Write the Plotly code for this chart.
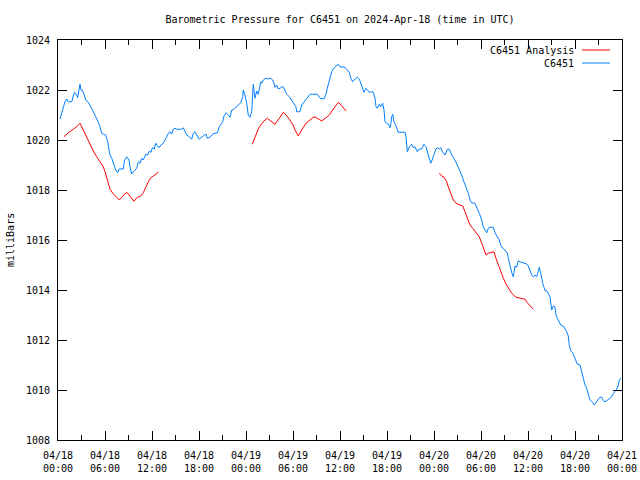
import pandas as pd
import plotly.graph_objects as go

BASE = "2024-04-18 00:00"

# hours since 2024-04-18 00:00 UTC, and pressure (mb)
obs_hours = [0.26, 0.47, 0.68, 0.89, 1.11, 1.31, 1.75, 1.95, 2.08, 2.39, 2.51, 2.68, 2.81, 2.94, 3.10, 3.36, 3.54,
             3.87, 4.21, 4.51, 4.81, 5.14, 5.36, 5.58, 5.78, 6.09, 6.34, 6.51, 6.64, 6.86, 7.06, 7.37, 7.62, 7.79,
             8.34, 8.46, 8.77, 9.06, 9.19, 9.41, 9.61, 9.83, 10.05, 10.25, 10.47, 10.69, 10.89, 11.20, 11.45, 11.66,
             11.87, 12.04, 12.29, 12.47, 12.73, 12.89, 13.15, 13.44, 13.88, 14.08, 14.30, 14.51, 14.72, 14.94, 15.15,
             15.79, 16.00, 16.21, 16.43, 16.76, 17.07, 17.27, 17.49, 17.71, 18.04, 18.34, 18.64, 18.89, 19.06, 19.40,
             19.75, 20.04, 20.34, 20.59, 20.90, 21.02, 21.19, 21.45, 21.74, 21.96, 22.17, 22.47, 22.72, 23.02, 23.32,
             23.58, 23.65, 23.87, 24.09, 24.29, 24.51, 24.73, 24.85, 24.93, 25.15, 25.37, 25.57, 25.79, 25.88, 26.00,
             26.21, 26.55, 26.85, 27.06, 27.41, 27.57, 27.70, 27.92, 28.12, 28.34, 28.56, 28.76, 28.98, 29.20, 29.53,
             29.83, 30.13, 30.38, 30.47, 30.89, 31.11, 31.40, 31.66, 31.95, 32.17, 33.10, 33.45, 33.96, 34.21, 34.38,
             34.63, 34.81, 34.94, 35.23, 35.58, 35.78, 36.00, 36.64, 36.93, 37.19, 37.37, 37.62, 37.91, 38.21, 38.46,
             38.64, 38.90, 39.06, 39.32, 39.49, 39.74, 40.05, 40.25, 40.47, 40.60, 40.76, 41.02, 41.20, 41.45, 41.62,
             41.74, 41.96, 42.17, 42.38, 42.47, 42.60, 42.73, 42.89, 43.15, 43.44, 44.30, 44.43, 44.59, 44.85, 45.15,
             45.36, 45.57, 45.87, 46.12, 46.43, 46.72, 46.98, 47.27, 47.58, 47.71, 48.00, 48.25, 48.42, 48.68, 48.85,
             49.11, 49.40, 49.70, 49.95, 50.13, 50.39, 50.68, 50.97, 51.32, 51.53, 51.74, 52.09, 52.38, 52.60, 52.81,
             53.23, 53.53, 53.78, 54.09, 54.29, 54.51, 54.73, 54.93, 55.15, 55.57, 55.79, 56.08, 56.34, 56.51, 56.77,
             57.06, 57.36, 57.49, 57.70, 57.92, 58.12, 58.34, 58.55, 58.76, 58.98, 59.40, 59.83, 60.04, 60.26, 60.47,
             60.68, 60.89, 61.11, 61.32, 61.44, 61.62, 61.75, 61.88, 62.04, 62.17, 62.39, 62.59, 62.81, 62.94, 63.03,
             63.15, 63.32, 63.45, 63.57, 63.74, 64.00, 64.18, 64.51, 64.72, 64.94, 65.14, 65.27, 65.45, 65.71, 65.87,
             66.13, 66.29, 66.64, 66.85, 67.06, 67.28, 67.49, 67.70, 67.91, 68.13, 68.34, 68.43, 68.68, 68.98, 69.19,
             69.41, 69.62, 69.83, 70.04, 70.25, 70.47, 70.68, 70.89, 71.11, 71.32, 71.53, 71.66, 71.87]
obs_mb = [1020.84, 1021.07, 1021.27, 1021.53, 1021.64, 1021.53, 1021.53, 1021.73, 1021.91, 1021.80, 1021.69, 1022.00,
          1022.23, 1022.00, 1022.00, 1021.80, 1021.60, 1021.51, 1021.33, 1021.13, 1020.93, 1020.73, 1020.53, 1020.27,
          1020.23, 1020.20, 1019.93, 1019.60, 1019.40, 1019.27, 1019.07, 1018.80, 1018.69, 1018.84, 1018.84, 1019.16,
          1019.33, 1019.20, 1018.93, 1018.64, 1018.73, 1018.80, 1018.87, 1019.13, 1019.07, 1019.27, 1019.20, 1019.43,
          1019.40, 1019.56, 1019.51, 1019.69, 1019.64, 1019.87, 1019.77, 1019.69, 1019.80, 1019.87, 1020.13, 1020.27,
          1020.33, 1020.24, 1020.43, 1020.47, 1020.43, 1020.43, 1020.49, 1020.33, 1020.20, 1020.13, 1020.03, 1020.27,
          1020.33, 1020.20, 1020.03, 1020.11, 1020.20, 1020.24, 1020.07, 1020.11, 1020.24, 1020.27, 1020.29, 1020.53,
          1020.69, 1020.73, 1020.96, 1021.09, 1021.00, 1020.91, 1021.20, 1021.23, 1021.31, 1021.40, 1021.49, 1021.73,
          1022.00, 1021.80, 1021.47, 1021.00, 1020.91, 1021.13, 1022.00, 1022.23, 1021.67, 1021.96, 1021.83, 1022.13,
          1022.33, 1022.27, 1022.40, 1022.47, 1022.44, 1022.49, 1022.40, 1022.27, 1022.11, 1022.20, 1022.04, 1022.07,
          1022.13, 1022.13, 1021.96, 1021.83, 1021.73, 1021.60, 1021.47, 1021.33, 1021.13, 1021.13, 1021.40, 1021.53,
          1021.64, 1021.73, 1021.83, 1021.83, 1021.67, 1021.64, 1021.83, 1022.07, 1022.33, 1022.53, 1022.73, 1022.89,
          1022.97, 1023.03, 1022.93, 1022.91, 1022.80, 1022.71, 1022.47, 1022.33, 1022.44, 1022.51, 1022.44, 1022.27,
          1022.04, 1021.91, 1022.07, 1022.00, 1021.91, 1021.93, 1021.91, 1021.67, 1021.33, 1021.27, 1021.43, 1021.33,
          1021.47, 1021.20, 1020.73, 1020.67, 1020.63, 1020.49, 1020.60, 1020.93, 1021.03, 1020.73, 1020.57, 1020.31,
          1020.31, 1020.13, 1019.53, 1019.73, 1019.83, 1019.69, 1019.73, 1019.53, 1019.64, 1019.64, 1019.83, 1019.73,
          1019.43, 1019.07, 1019.16, 1019.43, 1019.64, 1019.69, 1019.64, 1019.69, 1019.51, 1019.40, 1019.63, 1019.63,
          1019.47, 1019.33, 1019.20, 1019.00, 1018.80, 1018.60, 1018.40, 1018.13, 1017.87, 1017.60, 1017.49, 1017.47,
          1017.27, 1017.07, 1016.80, 1016.53, 1016.40, 1016.29, 1016.47, 1016.51, 1016.51, 1016.29, 1016.13, 1016.00,
          1015.80, 1015.67, 1015.60, 1015.47, 1015.27, 1014.93, 1014.69, 1014.53, 1014.96, 1014.91, 1015.17, 1015.13,
          1015.09, 1015.04, 1014.96, 1014.80, 1014.60, 1014.53, 1014.60, 1014.53, 1014.80, 1014.91, 1014.67, 1014.40,
          1014.27, 1014.11, 1013.97, 1013.97, 1013.87, 1013.73, 1013.40, 1013.20, 1013.33, 1013.36, 1013.31, 1013.00,
          1012.87, 1012.73, 1012.60, 1012.56, 1012.47, 1012.33, 1012.16, 1011.80, 1011.57, 1011.49, 1011.36, 1011.20,
          1011.04, 1011.00, 1010.73, 1010.47, 1010.20, 1010.07, 1009.87, 1009.60, 1009.53, 1009.47, 1009.40, 1009.49,
          1009.60, 1009.71, 1009.71, 1009.57, 1009.53, 1009.57, 1009.63, 1009.67, 1009.73, 1009.87, 1009.93, 1010.03,
          1010.20, 1010.40, 1010.48]

# Analysis series: three runs separated by gaps (None)
ana_hours = [0.77, 1.31, 1.95, 2.39, 2.81, 3.03, 3.36, 3.66, 4.09, 4.51, 4.94, 5.36, 5.78, 6.00, 6.22, 6.42, 6.64,
             7.06, 7.49, 7.83, 8.13, 8.43, 8.77, 9.19, 9.70, 10.12, 10.56, 10.89, 11.23, 11.53, 11.83, 12.17, 12.51,
             12.80, 18.0,
             24.80, 25.02, 25.28, 25.57, 25.88, 26.30, 26.72, 27.15, 27.70, 28.25, 28.76, 29.20, 29.62, 29.96, 30.26,
             30.68, 31.11, 31.66, 32.17, 32.68, 33.10, 33.66, 34.21, 34.63, 35.07, 35.49, 35.78, 36.22, 36.77, 42.0,
             48.68, 48.98, 49.28, 49.62, 49.82, 50.13, 50.46, 50.81, 51.32, 51.66, 51.96, 52.25, 52.60, 52.94, 53.45,
             53.78, 54.09, 54.38, 54.64, 54.93, 55.36, 55.66, 55.91, 56.21, 56.51, 56.85, 57.19, 57.49, 57.92, 58.47,
             58.98, 59.62, 59.91, 60.26, 60.68]
ana_mb = [1020.13, 1020.29, 1020.43, 1020.53, 1020.67, 1020.53, 1020.27, 1020.07, 1019.80, 1019.56, 1019.33, 1019.13,
          1018.93, 1018.73, 1018.53, 1018.27, 1018.03, 1017.84, 1017.71, 1017.60, 1017.71, 1017.80, 1017.91, 1017.76,
          1017.55, 1017.71, 1017.76, 1017.89, 1018.13, 1018.33, 1018.48, 1018.56, 1018.64, 1018.71, None,
          1019.83, 1020.00, 1020.23, 1020.44, 1020.60, 1020.76, 1020.87, 1020.76, 1020.63, 1020.87, 1021.11, 1020.97,
          1020.80, 1020.63, 1020.40, 1020.16, 1020.40, 1020.67, 1020.80, 1020.93, 1020.87, 1020.76, 1020.89, 1021.00,
          1021.20, 1021.37, 1021.51, 1021.37, 1021.16, None,
          1018.67, 1018.56, 1018.51, 1018.33, 1018.13, 1017.87, 1017.60, 1017.47, 1017.40, 1017.36, 1017.13, 1016.87,
          1016.60, 1016.47, 1016.29, 1016.13, 1015.87, 1015.60, 1015.40, 1015.47, 1015.49, 1015.53, 1015.27, 1015.00,
          1014.73, 1014.47, 1014.24, 1014.07, 1013.87, 1013.71, 1013.67, 1013.63, 1013.49, 1013.36, 1013.23]

series_names = ["C6451 Analysis", "C6451"]
series_colors = ["#ff0000", "#0080ff"]

base = pd.Timestamp(BASE)
obs_t = base + pd.to_timedelta(obs_hours, unit="h")
ana_t = base + pd.to_timedelta(ana_hours, unit="h")

MONO = "DejaVu Sans Mono"

fig = go.Figure()
fig.add_trace(go.Scatter(x=ana_t, y=ana_mb, mode="lines", name=series_names[0],
                         line=dict(color=series_colors[0], width=1), connectgaps=False))
fig.add_trace(go.Scatter(x=obs_t, y=obs_mb, mode="lines", name=series_names[1],
                         line=dict(color=series_colors[1], width=1)))

W, H = 640, 480
L, R, T, B = 58, 18, 40, 40
pw, ph = W - L - R, H - T - B

fig.update_layout(
    width=W, height=H,
    margin=dict(l=L, r=R, t=T, b=B, autoexpand=False),
    paper_bgcolor="white", plot_bgcolor="white",
    showlegend=False,
    font=dict(family=MONO, size=10, color="black"),
    title=dict(text="Barometric Pressure for C6451 on 2024-Apr-18 (time in UTC)",
               x=0.5, xref="paper", xanchor="center", y=1 - 19 / H, yanchor="middle",
               font=dict(family=MONO, size=10, color="black")),
    xaxis=dict(type="date",
               range=[base, base + pd.Timedelta(hours=72)],
               tick0=base, dtick=6 * 3600 * 1000,
               tickformat="%m/%d<br>%H:%M",
               ticks="inside", ticklen=9, tickcolor="black", tickwidth=1,
               ticklabelstandoff=6,
               showline=True, linecolor="black", linewidth=1, mirror="ticks",
               showgrid=False, zeroline=False,
               minor=dict(dtick=3 * 3600 * 1000, ticks="inside", ticklen=5, tickcolor="black", showgrid=False),
               tickfont=dict(family=MONO, size=10)),
    yaxis=dict(range=[1008, 1024], dtick=2, tick0=1008,
               ticks="inside", ticklen=9, tickcolor="black", tickwidth=1,
               ticklabelstandoff=5,
               showline=True, linecolor="black", linewidth=1, mirror="ticks",
               showgrid=False, zeroline=False,
               tickfont=dict(family=MONO, size=10)),
)

# y-axis label
fig.add_annotation(text="milliBars", xref="paper", yref="paper", x=(10 - L) / pw, y=0.5,
                   textangle=-90, showarrow=False, xanchor="center", yanchor="middle",
                   font=dict(family=MONO, size=10))

# legend (text right-aligned, sample line to the right, gnuplot style)
for i, (name, col) in enumerate(zip(series_names, series_colors)):
    ypx = 50 + 13 * i
    yp = 1 - (ypx - T) / ph
    fig.add_annotation(text=name, xref="paper", yref="paper", x=(576 - L) / pw, y=yp,
                       showarrow=False, xanchor="right", yanchor="middle",
                       font=dict(family=MONO, size=10))
    fig.add_shape(type="line", xref="paper", yref="paper",
                  x0=(582 - L) / pw, x1=(610 - L) / pw, y0=yp, y1=yp,
                  line=dict(color=col, width=1))

fig.write_html("out.html",
               config={"displayModeBar": False},
               post_script="document.body.style.margin='0';document.body.style.padding='0';")
